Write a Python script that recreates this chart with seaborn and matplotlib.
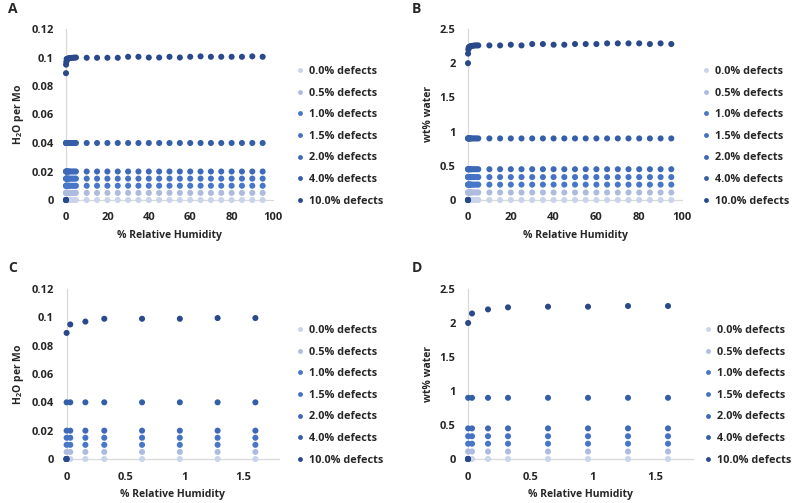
import numpy as np
import pandas as pd
import seaborn as sns
import matplotlib.pyplot as plt
from matplotlib.ticker import FuncFormatter

# relative humidity (%) at which each point was computed
rh = [0, 0.001, 0.032, 0.16, 0.32, 0.64, 0.96, 1.28, 1.6, 2.4, 3.2, 4.0, 4.8,
      10, 15, 20, 25, 30, 35, 40, 45, 50, 55, 60, 65, 70, 75, 80, 85, 90, 95]

labels = ['0.0% defects', '0.5% defects', '1.0% defects', '1.5% defects',
          '2.0% defects', '4.0% defects', '10.0% defects']
colors = ['#c9d3ea', '#adbbdf', '#4677c8', '#4472c4', '#3e69b8', '#345ea7', '#29498a']

# H2O per Mo
h2o_00 = [0]*31
h2o_05 = [0] + [0.005]*30
h2o_10 = [0] + [0.010]*30
h2o_15 = [0] + [0.015]*30
h2o_20 = [0] + [0.020]*30
h2o_40 = [0] + [0.040]*30
h2o_100 = [0, 0.089, 0.095, 0.097, 0.099, 0.099, 0.099, 0.0995, 0.0995, 0.0997, 0.0998, 0.0999, 0.1,
           0.0998, 0.0998, 0.0998, 0.0998, 0.1005, 0.1005, 0.1, 0.1, 0.1005, 0.1, 0.1005, 0.1008,
           0.1005, 0.1005, 0.1005, 0.1005, 0.1008, 0.1005]

# wt% water
wt_00 = [0]*31
wt_05 = [0] + [0.11]*30
wt_10 = [0] + [0.225]*30
wt_15 = [0] + [0.335]*30
wt_20 = [0] + [0.45]*30
wt_40 = [0] + [0.9]*30
wt_100 = [0, 2.0, 2.14, 2.20, 2.23, 2.24, 2.24, 2.25, 2.25, 2.255, 2.26, 2.26, 2.26,
          2.26, 2.26, 2.27, 2.26, 2.28, 2.28, 2.27, 2.27, 2.28, 2.28, 2.28, 2.29,
          2.29, 2.29, 2.29, 2.28, 2.29, 2.28]


def make_df(series):
    frames = []
    for lab, vals in zip(labels, series):
        frames.append(pd.DataFrame({'rh': rh, 'val': vals, 'series': lab}))
    return pd.concat(frames, ignore_index=True)


h2o_df = make_df([h2o_00, h2o_05, h2o_10, h2o_15, h2o_20, h2o_40, h2o_100])
wt_df = make_df([wt_00, wt_05, wt_10, wt_15, wt_20, wt_40, wt_100])

sns.set_style('white')
plt.rcParams['font.family'] = ['Open Sans', 'DejaVu Sans']
plt.rcParams['font.weight'] = 'bold'
plt.rcParams['mathtext.fontset'] = 'custom'
plt.rcParams['mathtext.bf'] = 'Open Sans:bold'

fig = plt.figure(figsize=(7.94, 5.03), dpi=100)
W, H = 794, 503


def px_axes(x0, x1, ytop, ybot):
    return fig.add_axes([x0 / W, 1 - ybot / H, (x1 - x0) / W, (ybot - ytop) / H])


axA = px_axes(66, 273, 29, 200)
axB = px_axes(468, 682, 29, 200)
axC = px_axes(66.5, 279, 289, 459)
axD = px_axes(468, 693, 289, 459)

panels = [
    (axA, h2o_df, 'H$_{\\mathbf{2}}$O per Mo', (0, 100), (0, 0.12), [0, 20, 40, 60, 80, 100],
     [0, 0.02, 0.04, 0.06, 0.08, 0.1, 0.12], 'A', 8, 297, 66),
    (axB, wt_df, 'wt% water', (0, 100), (0, 2.5), [0, 20, 40, 60, 80, 100],
     [0, 0.5, 1, 1.5, 2, 2.5], 'B', 412, 703, 66),
    (axC, h2o_df[h2o_df.rh <= 1.6], 'H$_{\\mathbf{2}}$O per Mo', (0, 1.8), (0, 0.12), [0, 0.5, 1, 1.5],
     [0, 0.02, 0.04, 0.06, 0.08, 0.1, 0.12], 'C', 8, 297, 325),
    (axD, wt_df[wt_df.rh <= 1.6], 'wt% water', (0, 1.8), (0, 2.5), [0, 0.5, 1, 1.5],
     [0, 0.5, 1, 1.5, 2, 2.5], 'D', 412, 705, 325),
]

fmt = FuncFormatter(lambda v, p: '{:g}'.format(round(v, 4)))

for ax, df, ylab, xl, yl, xt, yt, letter, lx, legx, legy in panels:
    sns.scatterplot(data=df, x='rh', y='val', hue='series', palette=colors,
                    hue_order=labels, s=19, linewidth=0, ax=ax, clip_on=False, zorder=3)
    ax.set_xlim(*xl)
    ax.set_ylim(*yl)
    ax.set_xticks(xt)
    ax.set_yticks(yt)
    ax.xaxis.set_major_formatter(fmt)
    ax.yaxis.set_major_formatter(fmt)
    ax.tick_params(length=0, labelsize=8, pad=9)
    for t in ax.get_xticklabels() + ax.get_yticklabels():
        t.set_fontweight('bold')
    for side in ['top', 'right']:
        ax.spines[side].set_visible(False)
    for side in ['left', 'bottom']:
        ax.spines[side].set_color('#d9d9d9')
        ax.spines[side].set_linewidth(0.9)
    ax.set_xlabel('% Relative Humidity', fontsize=7.5, fontweight='bold', labelpad=5)
    ax.set_ylabel(ylab, fontsize=7.5, fontweight='bold', labelpad=4)
    handles, labs = ax.get_legend_handles_labels()
    ax.legend(handles, labs, loc='upper left', bbox_to_anchor=(legx / W, 1 - legy / H),
              bbox_transform=fig.transFigure, frameon=False,
              labelspacing=0.98, handlelength=0.6, handletextpad=0.5,
              borderpad=0, borderaxespad=0, markerscale=0.8,
              prop={'weight': 'bold', 'size': 7.8})
    fig.text(lx / W, 1 - (2 if letter in 'AB' else 261) / H, letter,
             fontsize=10, fontweight='bold', va='top', ha='left')

fig.savefig('out.png', dpi=100)
